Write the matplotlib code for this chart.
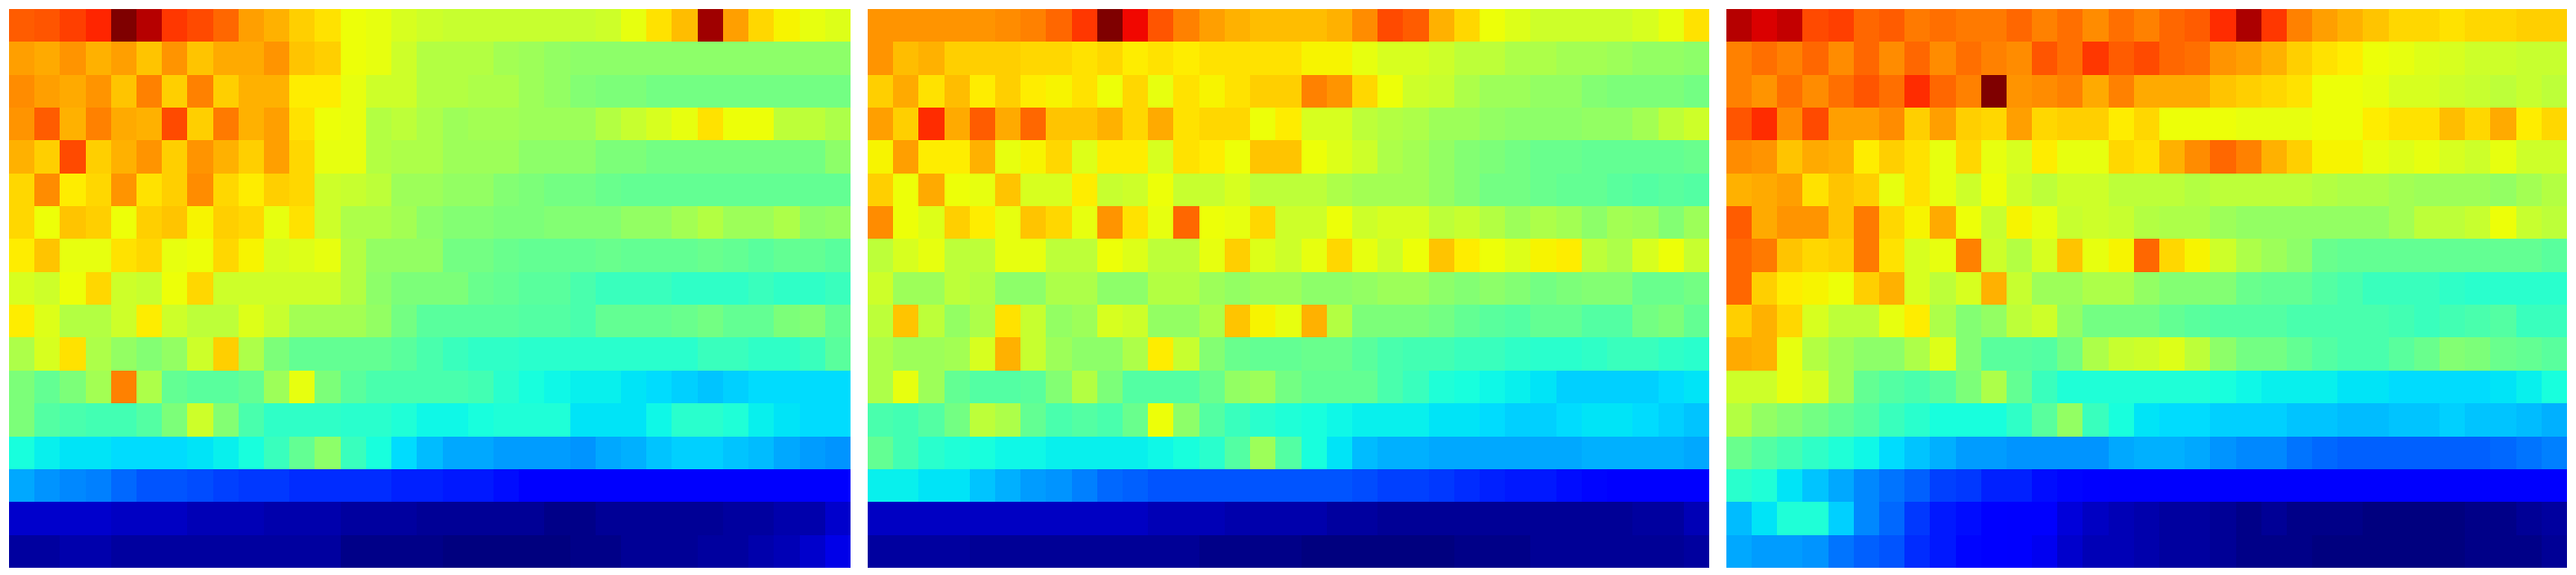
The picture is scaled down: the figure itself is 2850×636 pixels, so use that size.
import matplotlib
matplotlib.use("Agg")
import matplotlib.pyplot as plt
import numpy as np

panel_a = [
[81,82,84,87,100,95,85,83,80,74,72,69,67,64,63,61,60,59,59,59,59,59,59,60,63,67,71,97,74,68,65,63,62],
[74,73,75,72,74,70,75,70,73,73,75,70,69,64,63,60,57,57,57,55,54,53,52,52,52,52,52,52,52,52,52,52,52],
[76,74,73,75,70,77,69,77,69,72,72,66,66,63,60,60,57,57,56,56,54,53,51,50,50,49,49,49,49,49,49,49,49],
[75,81,72,77,73,72,83,69,78,72,74,67,64,63,57,58,56,54,55,55,54,54,54,57,59,61,63,67,64,64,58,58,56],
[72,69,83,69,72,75,69,75,72,69,74,68,63,63,57,56,56,54,54,54,52,52,52,50,50,49,49,49,49,49,49,49,52],
[68,76,66,68,75,67,69,76,68,66,69,68,60,59,58,54,54,53,53,51,50,49,49,48,47,47,47,47,47,47,47,47,47],
[68,64,70,69,64,69,70,65,69,68,63,67,60,56,56,55,52,51,51,50,50,51,51,51,53,53,55,57,54,54,56,52,53],
[66,70,63,63,67,68,63,64,68,65,61,62,63,57,53,53,53,49,49,48,47,47,47,48,47,47,47,48,47,46,47,47,46],
[61,60,64,68,60,59,64,68,60,60,60,60,60,57,52,50,50,50,48,47,46,46,44,42,42,42,41,41,41,42,41,41,42],
[66,62,57,57,60,66,60,58,58,62,59,55,55,55,53,49,46,46,46,46,45,45,44,47,47,47,48,49,47,47,50,51,47],
[56,61,67,56,53,51,53,60,69,56,50,47,47,47,47,46,44,42,41,41,40,40,40,40,40,40,40,42,42,41,41,42,46],
[50,47,50,55,77,56,47,46,46,47,54,63,50,46,44,44,44,44,43,40,38,37,36,36,35,34,33,32,33,34,34,34,34],
[50,45,44,43,43,45,50,60,51,44,41,41,41,40,40,39,37,37,38,39,39,39,35,35,35,37,40,40,39,36,35,34,34],
[38,36,35,35,34,34,34,35,36,38,42,47,52,42,38,34,31,29,29,28,28,28,27,29,30,32,33,33,32,31,29,28,27],
[29,27,26,25,23,21,21,20,19,18,18,17,17,17,17,16,16,15,15,14,12,12,11,11,11,11,11,11,11,11,11,11,11],
[7,7,7,7,6,6,6,5,5,5,4,4,4,3,3,3,2,2,2,2,2,1,1,2,2,2,2,2,3,3,4,4,7],
[3,3,4,4,3,3,3,3,3,3,3,3,3,1,1,1,1,0,0,0,0,0,1,1,2,2,2,3,3,4,5,7,9],
]

panel_b = [
[75,75,75,75,75,76,77,80,85,100,90,82,77,74,72,71,71,71,72,76,83,81,72,68,64,62,60,60,60,60,61,63,67],
[75,71,72,69,69,69,68,68,67,68,66,67,66,67,67,67,67,65,65,63,61,61,60,58,58,56,56,55,55,54,53,53,52],
[69,73,67,71,66,69,66,65,67,64,68,63,67,65,67,69,69,77,75,68,64,60,59,56,54,54,53,53,51,50,50,50,49],
[74,69,86,73,81,73,80,70,70,72,68,73,67,68,68,64,66,61,61,58,57,56,54,54,53,52,52,52,53,53,55,58,60],
[65,74,66,66,72,63,65,68,62,66,66,61,67,66,64,70,70,64,62,60,56,55,53,51,50,49,48,48,47,47,47,47,48],
[69,64,73,64,63,70,61,61,66,59,60,64,59,59,61,58,58,58,56,55,55,55,53,51,49,49,48,47,47,46,45,46,45],
[76,64,62,69,66,63,70,68,63,75,67,63,80,64,63,68,60,60,64,60,61,61,58,59,57,54,56,55,52,55,54,51,54],
[58,61,63,58,58,63,63,58,58,64,62,58,58,63,69,62,60,63,68,63,60,64,70,66,64,62,65,66,58,56,61,64,59],
[60,54,54,58,57,52,52,56,56,52,52,57,57,54,53,54,54,52,52,53,54,54,52,51,52,51,49,50,51,51,48,48,49],
[58,70,58,53,56,67,59,53,54,61,60,53,53,56,70,65,63,72,57,50,50,50,49,47,46,45,47,47,45,45,49,50,47],
[56,54,54,55,61,72,59,54,52,52,56,66,59,51,48,47,47,48,48,46,44,43,43,42,42,41,40,40,41,42,42,41,40],
[56,63,54,47,45,45,46,51,57,50,45,45,45,48,53,54,49,47,47,47,44,42,39,38,37,36,35,33,33,33,33,34,35],
[44,43,45,49,58,56,47,44,45,44,48,64,52,45,42,40,39,38,37,36,36,36,35,35,34,33,33,34,35,35,34,33,32],
[47,43,40,39,38,37,37,36,36,36,36,37,38,40,45,54,45,38,35,31,30,30,29,29,29,29,29,29,30,30,30,30,29],
[36,36,35,35,32,30,28,27,25,23,22,21,21,21,21,21,21,21,21,20,19,19,18,17,16,15,15,14,13,12,12,12,12],
[6,6,6,6,6,6,6,6,6,6,6,5,5,5,4,4,4,4,3,3,2,2,2,2,2,2,2,2,2,2,3,3,5],
[3,3,3,3,2,2,2,2,2,2,2,2,2,1,1,1,1,0,0,0,0,0,0,1,1,1,2,2,2,2,2,2,3],
]

panel_c = [
[95,92,94,83,84,80,81,78,79,78,78,80,77,79,76,79,77,80,81,86,96,85,77,74,72,70,68,68,67,68,68,69,69],
[77,79,77,80,76,80,76,80,76,79,77,76,82,79,85,81,83,80,79,75,74,72,69,67,66,64,63,62,61,60,60,59,59],
[77,75,79,76,79,82,79,86,80,77,100,75,76,77,73,77,73,73,73,70,69,68,67,64,64,63,61,61,60,59,58,59,58],
[82,86,76,83,74,74,76,69,74,69,68,74,68,69,69,66,68,64,64,64,63,63,63,64,64,66,67,67,71,68,73,66,68],
[76,75,70,73,72,66,69,67,63,68,63,61,66,63,63,68,67,72,76,80,77,72,69,65,65,63,62,63,61,60,63,60,60],
[72,73,74,67,70,69,63,67,63,60,64,60,58,60,60,58,58,58,57,58,58,58,58,57,56,56,55,54,54,54,53,55,57],
[81,73,75,75,70,78,68,65,73,64,59,65,63,59,60,59,57,56,56,54,53,53,53,53,53,53,55,58,58,59,64,59,58],
[80,78,70,68,69,78,67,61,63,77,60,57,61,70,63,65,80,68,65,60,56,54,52,48,47,47,47,47,47,47,47,47,46],
[80,69,66,65,64,69,72,61,58,61,72,59,54,54,56,56,53,51,51,51,48,47,47,45,44,42,42,42,41,40,40,40,40],
[69,72,68,61,58,58,63,66,56,51,53,58,60,53,49,49,49,47,46,45,45,45,44,44,44,44,43,42,43,44,45,42,42],
[73,72,63,57,54,52,52,56,62,51,46,46,45,49,56,59,60,62,58,52,49,49,47,45,44,44,46,48,51,50,48,47,46],
[60,60,63,61,54,47,45,44,46,50,56,47,42,39,39,39,39,39,39,38,37,36,36,36,35,35,34,34,34,34,35,36,38],
[57,53,51,49,47,45,42,40,38,38,38,41,46,53,42,38,35,34,34,33,33,33,32,32,31,31,32,32,33,32,32,31,30],
[48,45,43,41,39,37,34,32,30,28,28,27,27,27,27,29,30,30,29,27,26,26,24,23,22,22,22,22,22,22,23,24,25],
[40,39,35,32,29,26,24,22,19,18,16,16,14,13,12,11,11,11,11,11,11,11,11,11,11,11,11,11,11,11,11,11,11],
[31,35,39,39,33,26,23,18,15,14,12,11,11,8,6,5,4,3,3,2,1,2,1,1,1,0,0,0,0,1,1,2,3],
[29,28,28,27,24,22,21,17,15,13,12,11,10,7,5,5,4,3,3,2,1,1,1,0,0,0,0,0,0,1,1,1,2],
]

panels = [panel_a, panel_b, panel_c]
W, H = 2850, 636
lefts = [10, 960, 1910]
width, top, bottom = 930, 10, 628

fig = plt.figure(figsize=(W / 100, H / 100), dpi=100)
for values, left in zip(panels, lefts):
    ax = fig.add_axes([left / W, 1 - bottom / H, width / W, (bottom - top) / H])
    ax.imshow(np.array(values), cmap="jet", vmin=0, vmax=100, aspect="auto", interpolation="nearest")
    ax.axis("off")
fig.savefig("out.png", dpi=100)
